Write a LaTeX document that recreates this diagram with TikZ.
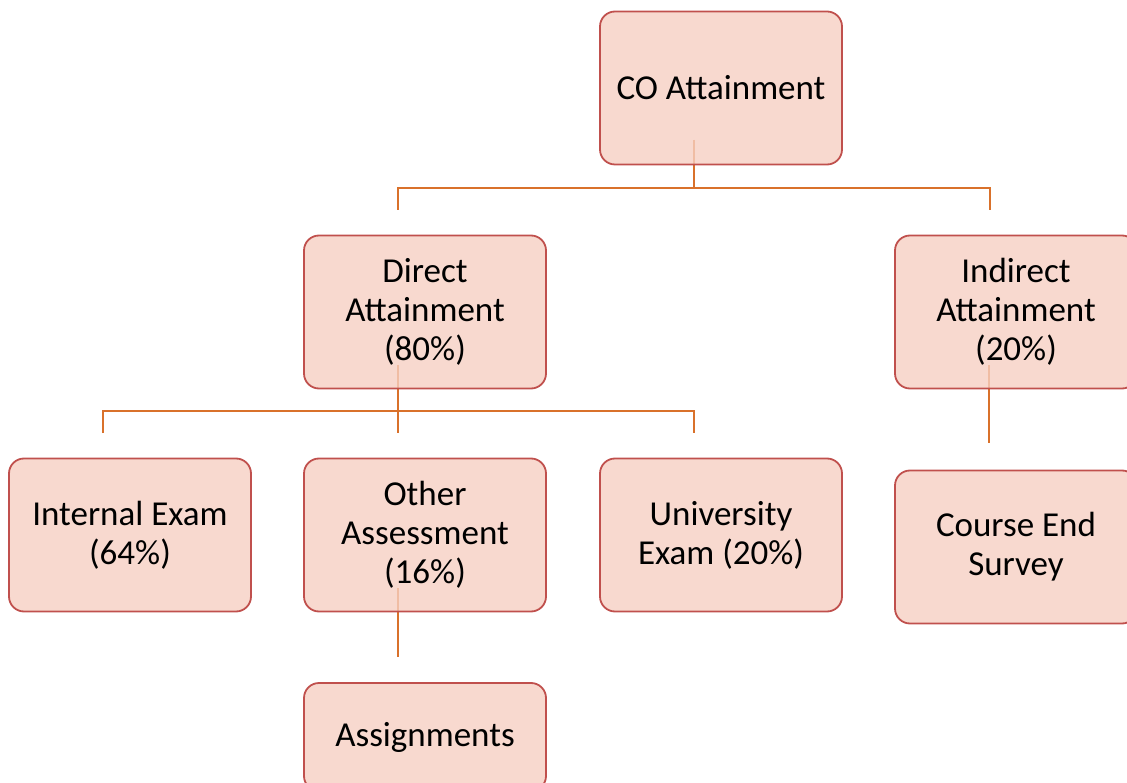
\documentclass[tikz,border=0pt]{standalone}
\usepackage{fontspec}
\setmainfont{Carlito}
\usetikzlibrary{backgrounds}
\definecolor{boxfill}{RGB}{246,208,195}
\definecolor{boxline}{RGB}{192,80,77}
\definecolor{conn}{RGB}{217,113,43}
\tikzset{
  box/.style={draw=boxline, line width=1.8pt, fill=boxfill, fill opacity=0.8, text opacity=1,
    rounded corners=15pt, minimum width=242pt, minimum height=153pt, inner sep=0pt,
    align=center, font=\fontsize{35}{39}\selectfont},
  link/.style={draw=conn, line width=2.8pt}
}
\begin{document}
\begin{tikzpicture}[x=1pt,y=-1pt]
\useasboundingbox (0,0) rectangle (1127,783);
\clip (0,0) rectangle (1127,783);
\node[box] (co) at (721,88) {CO Attainment};
\node[box] (direct) at (425,312) {Direct\\Attainment\\(80\%)};
\node[box] (indirect) at (1016,312) {Indirect\\Attainment\\(20\%)};
\node[box] (internal) at (130,535) {Internal Exam\\(64\%)};
\node[box] (other) at (425,535) {Other\\Assessment\\(16\%)};
\node[box] (univ) at (721,535) {University\\Exam (20\%)};
\node[box] (ces) at (1016,547) {Course End\\Survey};
\node[box, minimum height=108pt] (assign) at (425,737) {Assignments};
% connector points
\coordinate (c0) at (694,140);
\coordinate (c1) at (694,188);
\coordinate (cL) at (398,188);
\coordinate (cR) at (990,188);
\coordinate (dL) at (398,210);
\coordinate (dR) at (990,210);
\coordinate (e0) at (398,365);
\coordinate (e1) at (398,411);
\coordinate (eL) at (103,411);
\coordinate (eR) at (694,411);
\coordinate (fL) at (103,433);
\coordinate (fM) at (398,433);
\coordinate (fR) at (694,433);
\coordinate (g0) at (989,365);
\coordinate (g1) at (989,443);
\coordinate (h0) at (398,588);
\coordinate (h1) at (398,657);
\begin{scope}[on background layer]
\draw[link] (c0) -- (c1);
\draw[link] (dL) -- (cL) -- (cR) -- (dR);
\draw[link] (e0) -- (e1);
\draw[link] (fL) -- (eL) -- (eR) -- (fR);
\draw[link] (e1) -- (fM);
\draw[link] (g0) -- (g1);
\draw[link] (h0) -- (h1);
\end{scope}
\end{tikzpicture}
\end{document}
